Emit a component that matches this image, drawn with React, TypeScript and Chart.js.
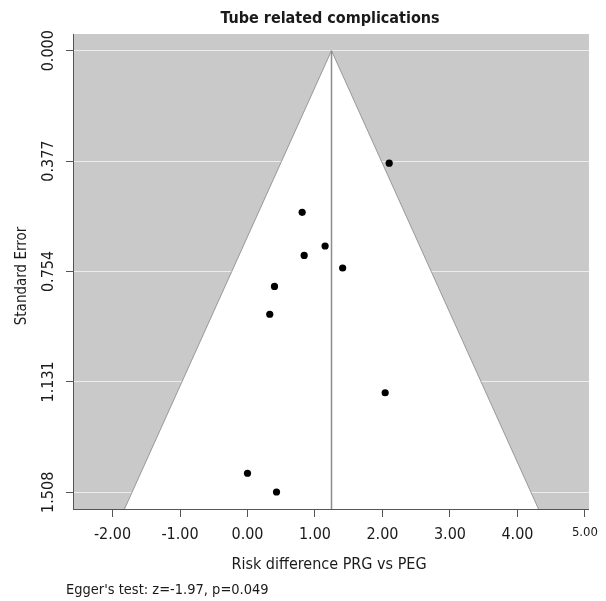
import React, { useEffect, useRef } from "react";
import { Chart, registerables } from "chart.js";

Chart.register(...registerables);

// ---- data ----
const studyRD = [2.1, 0.81, 1.15, 0.84, 1.41, 0.4, 0.33, 2.04, 0.0, 0.43];
const studySE = [0.384, 0.552, 0.667, 0.699, 0.742, 0.805, 0.9, 1.168, 1.443, 1.507];
const pooledRD = 1.245;
const zCrit = 1.96;

const xTicks = [-2, -1, 0, 1, 2, 3, 4, 5];
const xTickLabels = ["-2.00", "-1.00", "0.00", "1.00", "2.00", "3.00", "4.00", "5.00"];
const yTicks = [0, 0.377, 0.754, 1.131, 1.508];
const yTickLabels = ["0.000", "0.377", "0.754", "1.131", "1.508"];

const titleText = "Tube related complications";
const xTitleText = "Risk difference PRG vs PEG";
const yTitleText = "Standard Error";
const noteText = "Egger's test: z=-1.97, p=0.049";

const X_MIN = -2.586;
const X_MAX = 5.06;
const Y_MIN = -0.057;
const Y_MAX = 1.565;

const FAMILY = "'DejaVu Sans Condensed', 'DejaVu Sans', sans-serif";
const TEXT = "#1a1a1a";
const AXIS = "#555555";

export default function App() {
  const ref = useRef<HTMLCanvasElement | null>(null);

  useEffect(() => {
    const canvas = ref.current;
    if (!canvas) return;

    const points = studyRD.map((x, i) => ({ x, y: studySE[i] }));
    const funnel = [
      { x: pooledRD - zCrit * Y_MAX, y: Y_MAX },
      { x: pooledRD, y: 0 },
      { x: pooledRD + zCrit * Y_MAX, y: Y_MAX },
    ];
    const vline = [
      { x: pooledRD, y: 0 },
      { x: pooledRD, y: Y_MAX },
    ];

    const plugin = {
      id: "funnelDecor",
      beforeDraw(chart: any) {
        const { ctx, chartArea: a } = chart;
        ctx.save();
        ctx.fillStyle = "#c9c9c9";
        ctx.fillRect(a.left, a.top, a.right - a.left, a.bottom - a.top);
        ctx.restore();
      },
      afterDraw(chart: any) {
        const { ctx } = chart;
        const yScale = chart.scales.y;
        ctx.save();
        ctx.fillStyle = TEXT;
        // y tick labels (rotated)
        ctx.font = `16px ${FAMILY}`;
        ctx.textAlign = "center";
        ctx.textBaseline = "alphabetic";
        yTicks.forEach((v, i) => {
          const py = yScale.getPixelForValue(v);
          ctx.save();
          ctx.translate(53, py);
          ctx.rotate(-Math.PI / 2);
          ctx.fillText(yTickLabels[i], 0, 0);
          ctx.restore();
        });
        // y title
        ctx.font = `15px ${FAMILY}`;
        ctx.save();
        ctx.translate(25.5, 276);
        ctx.rotate(-Math.PI / 2);
        ctx.fillText(yTitleText, 0, 0);
        ctx.restore();
        // main title
        ctx.font = `bold 16px ${FAMILY}`;
        ctx.fillText(titleText, 330, 23);
        // x title
        ctx.font = `16px ${FAMILY}`;
        ctx.fillText(xTitleText, 329, 569);
        // note
        ctx.font = `14.5px ${FAMILY}`;
        ctx.textAlign = "left";
        ctx.fillText(noteText, 66, 594);
        ctx.restore();
      },
    };

    const chart = new Chart(canvas, {
      type: "scatter",
      data: {
        datasets: [
          {
            label: "Studies",
            data: points,
            pointRadius: 3.6,
            pointBackgroundColor: "#000000",
            pointBorderColor: "#000000",
            pointBorderWidth: 0,
            showLine: false,
            order: 0,
          },
          {
            label: "Pooled",
            data: vline,
            showLine: true,
            borderColor: "#8c8c8c",
            borderWidth: 1.5,
            pointRadius: 0,
            fill: false,
            order: 1,
          },
          {
            label: "Funnel",
            data: funnel,
            showLine: true,
            borderColor: "#7a7a7a",
            borderWidth: 0.7,
            backgroundColor: "#ffffff",
            pointRadius: 0,
            fill: { value: Y_MAX },
            order: 2,
          },
        ],
      },
      options: {
        animation: false,
        responsive: false,
        devicePixelRatio: 1,
        layout: { padding: { left: 0, right: 11, top: 34, bottom: 0 } },
        plugins: {
          legend: { display: false },
          tooltip: { enabled: false },
          title: { display: false },
        },
        scales: {
          x: {
            type: "linear",
            min: X_MIN,
            max: X_MAX,
            afterBuildTicks: (s: any) => {
              s.ticks = xTicks.map((v) => ({ value: v }));
            },
            afterFit: (s: any) => {
              s.height = 92;
            },
            ticks: {
              padding: 8,
              color: TEXT,
              maxRotation: 0,
              autoSkip: false,
              callback: (v: any) => xTickLabels[xTicks.indexOf(Number(v))] ?? "",
              font: (c: any) => ({
                family: FAMILY,
                size: c.tick && c.tick.value === 5 ? 13 : 16,
              }),
            },
            grid: {
              drawOnChartArea: false,
              drawTicks: true,
              tickLength: 8,
              tickColor: AXIS,
            },
            border: { display: true, color: AXIS, width: 1 },
          },
          y: {
            type: "linear",
            reverse: true,
            min: Y_MIN,
            max: Y_MAX,
            afterBuildTicks: (s: any) => {
              s.ticks = yTicks.map((v) => ({ value: v }));
            },
            afterFit: (s: any) => {
              s.width = 73;
            },
            ticks: { display: false },
            grid: {
              drawOnChartArea: true,
              color: "#ececec",
              lineWidth: 1,
              drawTicks: true,
              tickLength: 7,
              tickColor: AXIS,
            },
            border: { display: true, color: AXIS, width: 1 },
          },
        },
      },
      plugins: [plugin],
    } as any);

    return () => chart.destroy();
  }, []);

  return (
    <div style={{ position: "absolute", left: 0, top: 0, width: 606, height: 601 }}>
      <canvas ref={ref} width={606} height={601} style={{ width: 606, height: 601 }} />
    </div>
  );
}
